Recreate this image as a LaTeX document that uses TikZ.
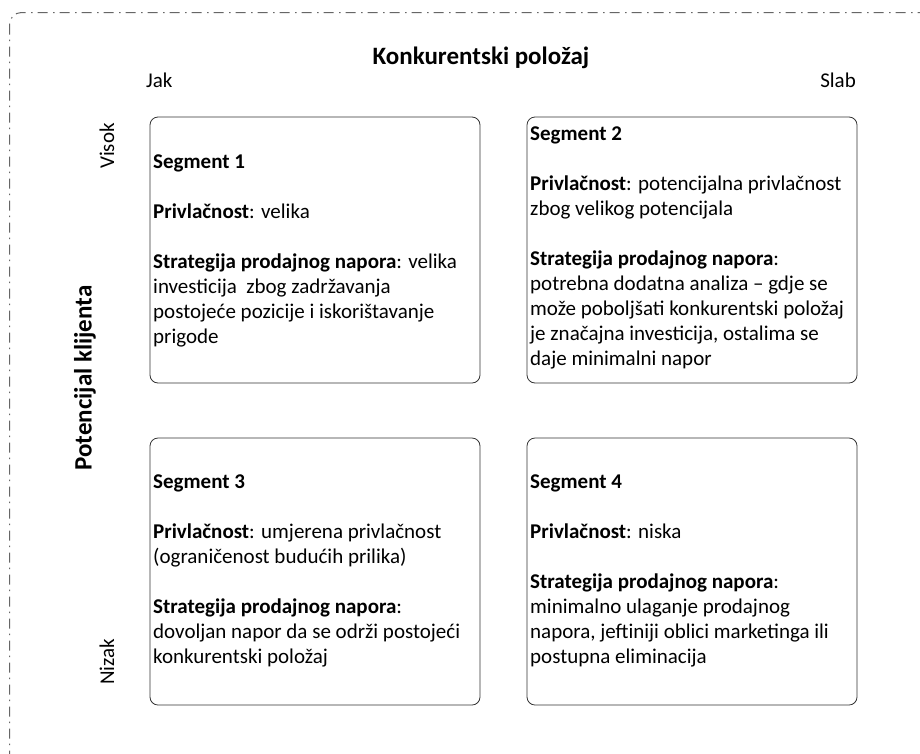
\documentclass[tikz,border=0pt]{standalone}
\usepackage{fontspec}
\setmainfont{Carlito}
\newcommand\segsp{\raggedright\spaceskip=0pt\xspaceskip=0pt\relax}
\begin{document}
\begin{tikzpicture}[x=1pt,y=-1pt,
  segbox/.style={draw=black!80, line width=0.8pt, rounded corners=8pt},
  segtext/.style={anchor=west, inner sep=0pt, text width=345pt,
    font=\fontsize{21}{25}\selectfont},
  lbl/.style={inner sep=0pt, font=\fontsize{21}{25}\selectfont},
  ttl/.style={inner sep=0pt, font=\fontsize{25}{30}\selectfont\bfseries},
  outer/.style={draw=black!60, line width=1pt, rounded corners=12pt,
    dash pattern=on 10pt off 5pt on 1.5pt off 5.5pt}]
\useasboundingbox (0,0) rectangle (920,753);
\clip (0,0) rectangle (920,753);
\fill[white] (0,0) rectangle (920,753);
\draw[outer] (9.5,12.5) rectangle (960,800);
% boxes
\draw[segbox] (150,117) rectangle (480,383) coordinate (b1);
\draw[segbox] (527,117) rectangle (857,383) coordinate (b2);
\draw[segbox] (150,438) rectangle (480,705) coordinate (b3);
\draw[segbox] (527,438) rectangle (857,705) coordinate (b4);
\node[segtext] (t1) at (153,251) {\segsp\textbf{Segment 1}\\[25pt]
\textbf{Privlačnost}: velika\\[25pt]
\textbf{Strategija prodajnog napora}: velika\\
investicija\ \ zbog zadržavanja\\
postojeće pozicije i iskorištavanje\\
prigode};
\node[segtext] (t2) at (530,248) {\segsp\textbf{Segment 2}\\[25pt]
\textbf{Privlačnost}: potencijalna privlačnost\\
zbog velikog potencijala\\[25pt]
\textbf{Strategija prodajnog napora}:\\
potrebna dodatna analiza – gdje se\\
može poboljšati konkurentski položaj\\
je značajna investicija, ostalima se\\
daje minimalni napor};
\node[segtext] (t3) at (153,571) {\segsp\textbf{Segment 3}\\[25pt]
\textbf{Privlačnost}: umjerena privlačnost\\
(ograničenost budućih prilika)\\[25pt]
\textbf{Strategija prodajnog napora}:\\
dovoljan napor da se održi postojeći\\
konkurentski položaj};
\node[segtext] (t4) at (530,571) {\segsp\textbf{Segment 4}\\[25pt]
\textbf{Privlačnost}: niska\\[25pt]
\textbf{Strategija prodajnog napora}:\\
minimalno ulaganje prodajnog\\
napora, jeftiniji oblici marketinga ili\\
postupna eliminacija};
% axis labels
\node[ttl] (kp) at (481,58) {Konkurentski položaj};
\node[lbl, anchor=west] (jak) at (146,80) {Jak};
\node[lbl, anchor=east] (slab) at (856,80) {Slab};
\node[lbl, rotate=90] (visok) at (107,146) {Visok};
\node[lbl, rotate=90] (nizak) at (107,662) {Nizak};
\node[ttl, rotate=90] (pk) at (85,378) {Potencijal klijenta};
\end{tikzpicture}
\end{document}
